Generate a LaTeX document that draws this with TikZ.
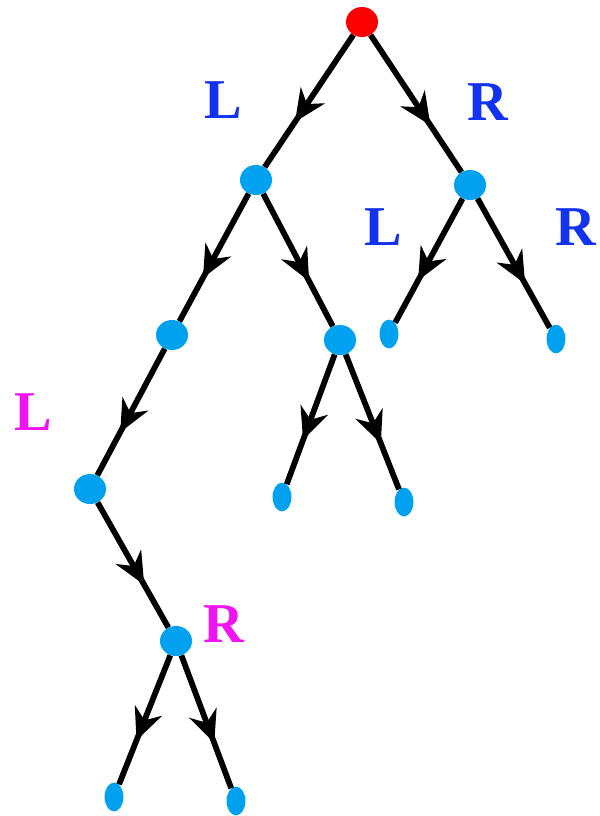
\documentclass[tikz,border=0pt]{standalone}
\usepackage{fontspec}
\setmainfont{Liberation Serif}[BoldFont={Liberation Serif Bold}]
\usetikzlibrary{arrows.meta,decorations.markings,shapes.geometric}
\definecolor{nodeblue}{RGB}{0,162,240}
\definecolor{lblblue}{RGB}{18,50,240}
\definecolor{lblpink}{RGB}{240,20,240}

\begin{document}
\begin{tikzpicture}[x=0.025cm,y=-0.025cm,>=Stealth]
\tikzstyle{inner}=[ellipse,fill=nodeblue,minimum width=0.8cm,minimum height=0.75cm,inner sep=0pt]
\tikzstyle{leaf}=[ellipse,fill=nodeblue,minimum width=0.47cm,minimum height=0.72cm,inner sep=0pt]
\tikzstyle{edge}=[line width=4.1pt,postaction={decorate},decoration={markings,
  mark=at position 0.66 with {\arrow{Stealth[length=0.8cm,width=0.72cm,inset=0.26cm]}}}]
\tikzstyle{lbl}=[font=\fontsize{40}{40}\selectfont\bfseries]
\useasboundingbox (0,0) rectangle (599,816);
% nodes, top to bottom
\node[inner,fill=red] (root) at (362,22) {};
\node[inner] (a) at (256,180) {};
\node[inner] (b) at (470,185) {};
\node[inner] (aa) at (172,335) {};
\node[inner] (ab) at (340,340) {};
\node[leaf] (ba) at (389,334) {};
\node[leaf] (bb) at (556,339) {};
\node[inner] (aaa) at (90,489) {};
\node[leaf] (aba) at (282,497) {};
\node[leaf] (abb) at (404,502) {};
\node[inner] (aaab) at (176,641) {};
\node[leaf] (aaaba) at (114,797) {};
\node[leaf] (aaabb) at (236,801) {};
% edges
\draw[edge] (root) -- (a);
\draw[edge] (root) -- (b);
\draw[edge] (a) -- (aa);
\draw[edge] (a) -- (ab);
\draw[edge] (b) -- (ba);
\draw[edge] (b) -- (bb);
\draw[edge] (aa) -- (aaa);
\draw[edge] (ab) -- (aba);
\draw[edge] (ab) -- (abb);
\draw[edge] (aaa) -- (aaab);
\draw[edge] (aaab) -- (aaaba);
\draw[edge] (aaab) -- (aaabb);
% branch labels
\node[lbl,lblblue] (l1) at (223,100) {L};
\node[lbl,lblblue] (r1) at (488,102) {R};
\node[lbl,lblblue] (l2) at (383,227) {L};
\node[lbl,lblblue] (r2) at (576,227) {R};
\node[lbl,lblpink] (l3) at (33,412) {L};
\node[lbl,lblpink] (r3) at (224,624) {R};
\end{tikzpicture}
\end{document}
